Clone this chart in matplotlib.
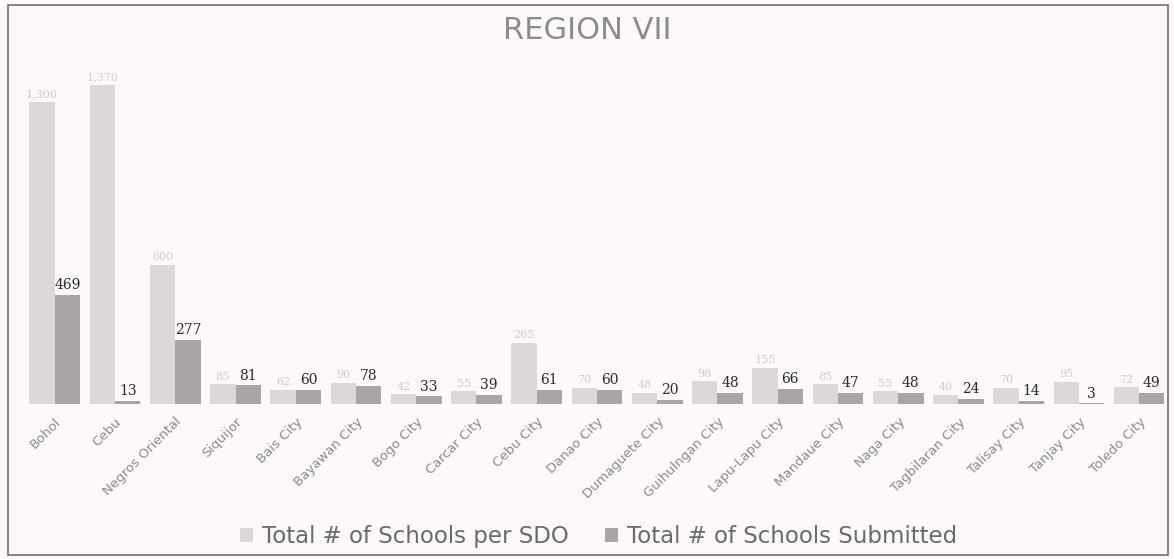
import numpy as np
import matplotlib
matplotlib.use("Agg")
import matplotlib.pyplot as plt

# SDOs of Region VII
categories = ["Bohol", "Cebu", "Negros Oriental", "Siquijor", "Bais City", "Bayawan City",
              "Bogo City", "Carcar City", "Cebu City", "Danao City", "Dumaguete City",
              "Guihulngan City", "Lapu-Lapu City", "Mandaue City", "Naga City",
              "Tagbilaran City", "Talisay City", "Tanjay City", "Toledo City"]
total_schools = [1300, 1370, 600, 85, 62, 90, 42, 55, 265, 70, 48,
                 98, 155, 85, 55, 40, 70, 95, 72]
submitted = [469, 13, 277, 81, 60, 78, 33, 39, 61, 60, 20,
             48, 66, 47, 48, 24, 14, 3, 49]

bg = "#fdf9fb"
fig = plt.figure(figsize=(11.74, 5.59), dpi=100, facecolor=bg)

# outer chart frame
frame = plt.Rectangle((8 / 1174, 4 / 559), 1160 / 1174, 550 / 559, transform=fig.transFigure,
                      fill=False, edgecolor="#6e6e6e", linewidth=1.2)
fig.patches.append(frame)

ax = fig.add_axes([0.021, 0.277, 0.975, 0.616])
ax.set_facecolor(bg)

x = np.arange(len(categories))
w = 0.42
b1 = ax.bar(x - w / 2, total_schools, w, color="#dcd8d8", label="Total # of Schools per SDO")
b2 = ax.bar(x + w / 2, submitted, w, color="#a9a5a5", label="Total # of Schools Submitted")

for rect, v in zip(b1, total_schools):
    ax.text(rect.get_x() + rect.get_width() / 2, v + 12, f"{v:,}", ha="center", va="bottom",
            fontsize=8, color="#d0cccc", family="DejaVu Serif")
for rect, v in zip(b2, submitted):
    ax.text(rect.get_x() + rect.get_width() / 2, v + 12, str(v), ha="center", va="bottom",
            fontsize=10, color="#2a2a2a", family="DejaVu Serif")

ax.set_xlim(-0.5, len(categories) - 0.5)
ax.set_ylim(0, 1480)
ax.set_yticks([])
ax.set_xticks(x)
ax.set_xticklabels(categories, rotation=45, ha="right", rotation_mode="anchor",
                   fontsize=9.5, color="#8a8a8a")
ax.tick_params(axis="x", length=0, pad=8)
for s in ax.spines.values():
    s.set_visible(False)

fig.text(0.5, 0.945, "REGION VII", ha="center", va="center", fontsize=22, color="#8c8c8c")

fig.legend(handles=[b1, b2], loc="center", bbox_to_anchor=(0.51, 0.04), ncol=2,
           frameon=False, fontsize=16.5, labelcolor="#6a6a6a", handlelength=0.55,
           handleheight=0.55, handletextpad=0.4, columnspacing=1.6)

fig.savefig("out.png", dpi=100, facecolor=bg)
